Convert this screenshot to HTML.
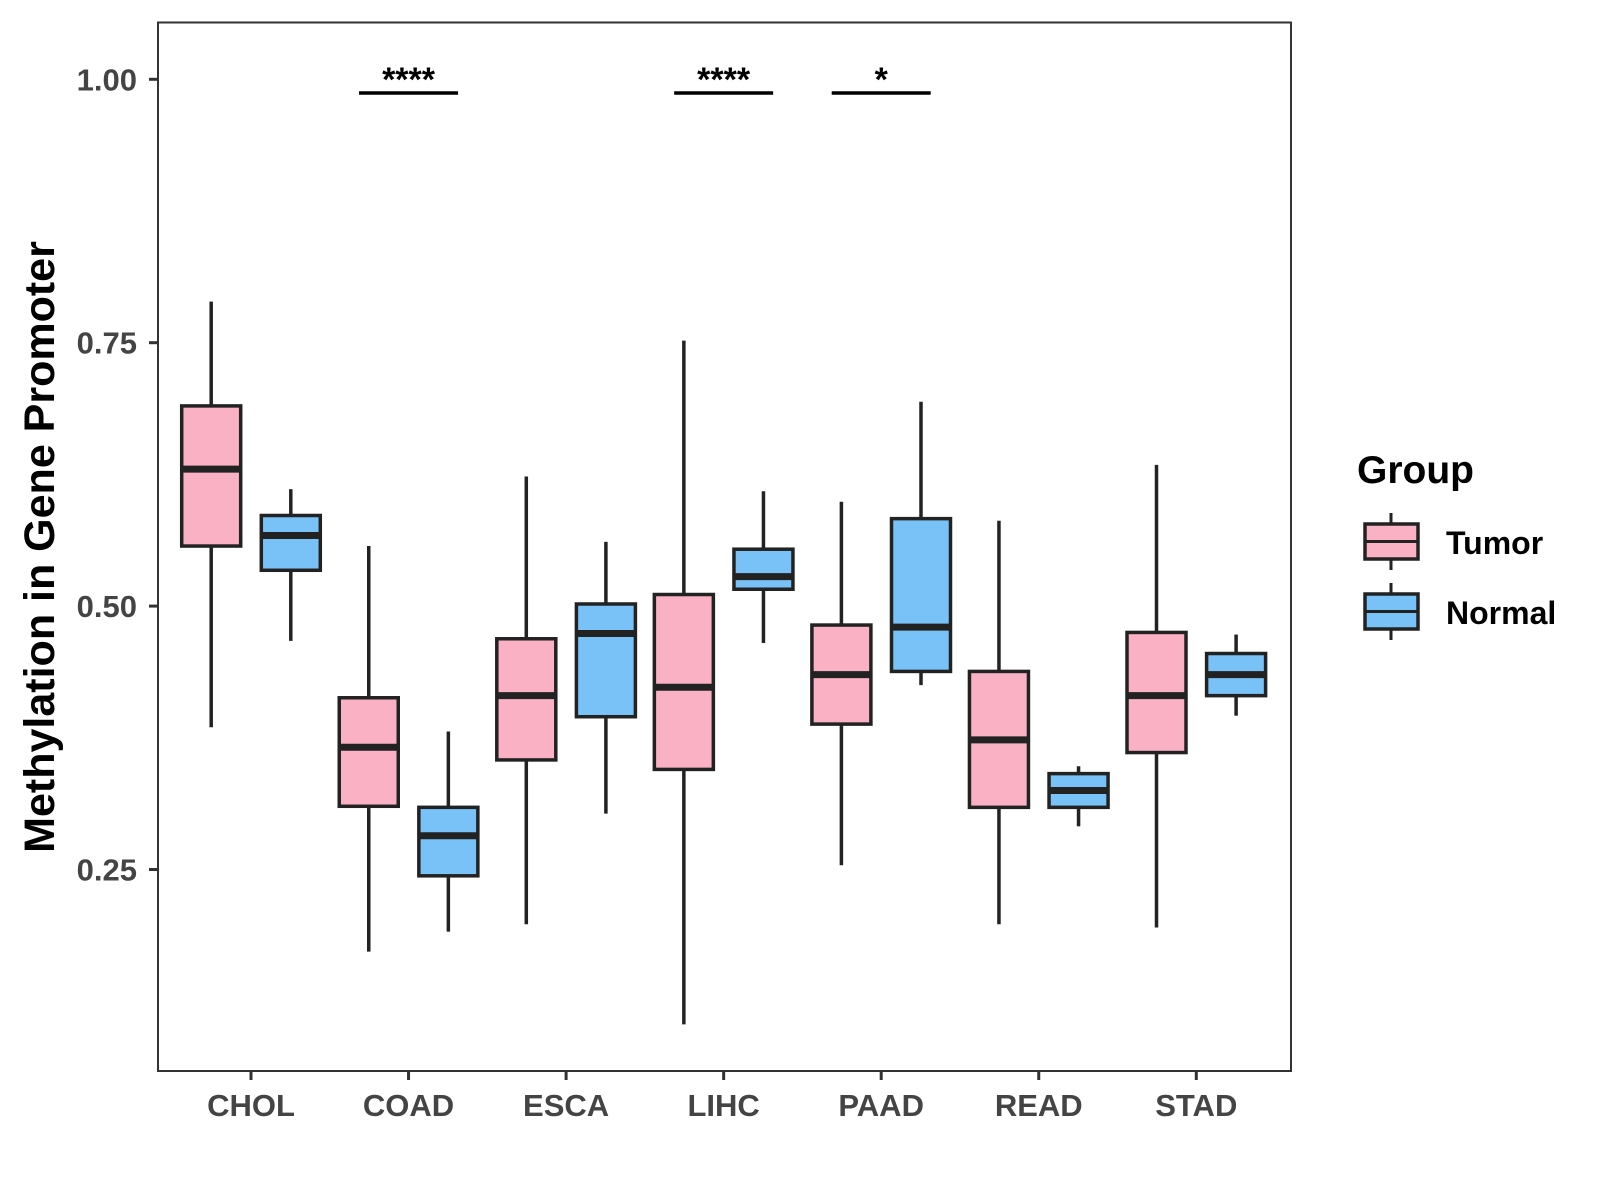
<!DOCTYPE html>
<html><head><meta charset="utf-8"><style>body{margin:0;background:#fff}svg{display:block;font-family:"Liberation Sans",Arial,sans-serif}</style></head>
<body>
<svg id="chart" width="1600" height="1200" viewBox="0 0 1600 1200"></svg>
<script>
const categories=["CHOL","COAD","ESCA","LIHC","PAAD","READ","STAD"];
// [whiskerHigh, whiskerLow, q3, q1, median]
const tumorStats=[[0.789,0.385,0.690,0.557,0.630],[0.557,0.172,0.413,0.310,0.366],[0.623,0.198,0.469,0.354,0.415],[0.752,0.103,0.511,0.345,0.423],[0.599,0.254,0.482,0.388,0.435],[0.581,0.198,0.438,0.309,0.373],[0.634,0.195,0.475,0.361,0.415]];
const normalStats=[[0.611,0.467,0.586,0.534,0.567],[0.381,0.191,0.309,0.244,0.282],[0.561,0.303,0.502,0.395,0.474],[0.609,0.465,0.554,0.516,0.528],[0.694,0.425,0.583,0.438,0.480],[0.348,0.291,0.341,0.309,0.325],[0.473,0.396,0.455,0.415,0.435]];
const yTicks=[0.25,0.50,0.75,1.00];
const sigCats=["COAD","LIHC","PAAD"];
const sigLabels=["****","****","*"];
const sigLevel=0.987;

const NS="http://www.w3.org/2000/svg";
const svg=document.getElementById("chart");
const L=158,R=1291,T=22.5,B=1071;
function y(v){return 79.3+(1-v)*1053.6;}
function x(i){return 251+i*157.55;}
function el(tag,attrs,parent){const e=document.createElementNS(NS,tag);for(const k in attrs)e.setAttribute(k,attrs[k]);(parent||svg).appendChild(e);return e;}

const frame=el("rect",{x:L,y:T,width:R-L,height:B-T,fill:"none",stroke:"#333","stroke-width":2});



yTicks.forEach(v=>{
  const t=el("line",{x1:L-9,x2:L,y1:y(v),y2:y(v),stroke:"#333","stroke-width":3});
  
  
  const tx=el("text",{x:137,y:y(v)+11,"text-anchor":"end","font-size":31,"font-weight":"bold",fill:"#444"});
  tx.textContent=v.toFixed(2);
  
  
});
categories.forEach((c,i)=>{
  const t=el("line",{x1:x(i),x2:x(i),y1:B,y2:B+9,stroke:"#333","stroke-width":3});
  
  
  const tx=el("text",{x:x(i),y:1116,"text-anchor":"middle","font-size":31,"font-weight":"bold",fill:"#444"});
  tx.textContent=c;
  
  
});

function drawBox(s,cx,fill,name){
  const g=el("g",{});
  
  
  el("line",{x1:cx,x2:cx,y1:y(s[0]),y2:y(s[2]),stroke:"#222","stroke-width":3.5},g);
  el("line",{x1:cx,x2:cx,y1:y(s[3]),y2:y(s[1]),stroke:"#222","stroke-width":3.5},g);
  el("rect",{x:cx-29.5,y:y(s[2]),width:59,height:y(s[3])-y(s[2]),fill:fill,stroke:"#222","stroke-width":3.5},g);
  el("line",{x1:cx-29.5,x2:cx+29.5,y1:y(s[4]),y2:y(s[4]),stroke:"#222","stroke-width":7},g);
}
categories.forEach((c,i)=>{
  drawBox(tumorStats[i],x(i)-39.8,"#FBB1C4","box-tumor-"+c.toLowerCase());
  drawBox(normalStats[i],x(i)+39.8,"#78C2F8","box-normal-"+c.toLowerCase());
});
sigCats.forEach((c,k)=>{
  const i=categories.indexOf(c);
  const ln=el("line",{x1:x(i)-49.5,x2:x(i)+49.5,y1:y(sigLevel),y2:y(sigLevel),stroke:"#000","stroke-width":3.5});
  
  
  const tx=el("text",{x:x(i),y:y(sigLevel)-2,"text-anchor":"middle","font-size":34,"font-weight":"bold",fill:"#000"});
  tx.textContent=sigLabels[k];
  
  
});

const yt=el("text",{x:0,y:0,transform:"translate(54,547) rotate(-90)","text-anchor":"middle","font-size":43,"font-weight":"bold",fill:"#000"});
yt.textContent="Methylation in Gene Promoter";


const lt=el("text",{x:1357,y:483,"font-size":39,"font-weight":"bold",fill:"#000"});
lt.textContent="Group";


[["Tumor","#FBB1C4",524],["Normal","#78C2F8",594]].forEach(([n,f,top])=>{
  const g=el("g",{});
  
  
  el("line",{x1:1391,x2:1391,y1:top-11,y2:top+46,stroke:"#222","stroke-width":3},g);
  el("rect",{x:1365,y:top,width:53,height:35,fill:f,stroke:"#222","stroke-width":3.5},g);
  el("line",{x1:1365,x2:1418,y1:top+17.5,y2:top+17.5,stroke:"#222","stroke-width":3},g);
  const t=el("text",{x:1446,y:top+30,"font-size":32,"font-weight":"bold",fill:"#000"},g);
  t.textContent=n;
});
</script>
</body></html>
